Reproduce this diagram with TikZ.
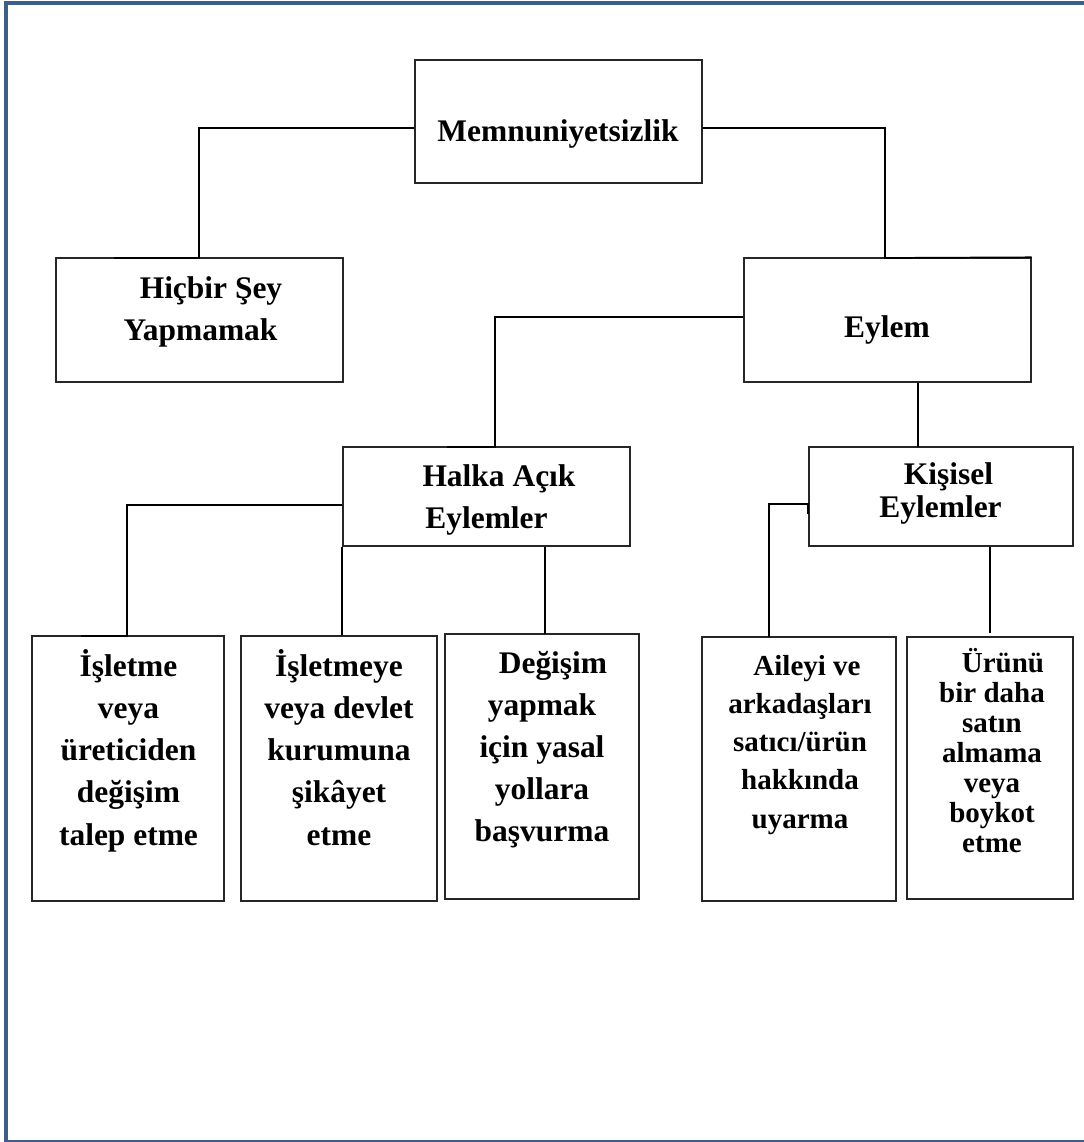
\documentclass[tikz,border=0pt]{standalone}
\usepackage{fontspec}
\setmainfont{Liberation Serif}
\usetikzlibrary{fit,calc}
\definecolor{bordercol}{RGB}{61,94,141}
\newcommand{\tb}[3]{\parbox[t]{9cm}{\centering\fontsize{#1}{#2}\selectfont\lineskiplimit=-100pt\relax #3}}
\tikzset{
  box/.style={draw=black!85, line width=1pt, inner sep=0pt, rectangle},
  txt/.style={anchor=base, inner sep=0pt, font=\bfseries},
  conn/.style={draw=black, line width=1.3pt}
}
\begin{document}
\begin{tikzpicture}[x=0.75pt,y=-0.75pt]
\useasboundingbox (0,0) rectangle (1084,1142);
\fill[white] (0,0) rectangle (1084,1142);
% page border
\draw[bordercol, line width=3pt] (4,3) coordinate (bTL) -- (1084,3) coordinate (bTR);
\draw[bordercol, line width=3pt] (6,1) coordinate (bLT) -- (6,1141.5) coordinate (bLB);
\draw[bordercol, line width=1.2pt] (6,1140.7) coordinate (bBL) -- (1084,1140.7) coordinate (bBR);

% boxes
\node[box, fit={(415,60)(702,183)}] (memn) {};
\node[box, fit={(56,258)(343,382)}] (hic) {};
\node[box, fit={(744,258)(1031,382)}] (eylem) {};
\node[box, fit={(343,447)(630,546)}] (halka) {};
\node[box, fit={(809,447)(1073,546)}] (kis) {};
\node[box, fit={(32,636)(224,901)}] (b1) {};
\node[box, fit={(241,636)(437,901)}] (b2) {};
\node[box, fit={(445,634)(639,899)}] (b3) {};
\node[box, fit={(702,637)(896,901)}] (b4) {};
\node[box, fit={(907,637)(1073,899)}] (b5) {};

% texts
\node[txt] (tmemn) at (558,141.7) {\tb{23.6}{31.7}{Memnuniyetsizlik}};
\node[txt] (thic) at (200.5,298) {\tb{23.6}{31.5}{\hspace*{15.75pt}Hiçbir Şey\\Yapmamak}};
\node[txt] (teylem) at (887,337) {\tb{23.6}{31.7}{Eylem}};
\node[txt] (thalka) at (486.5,486.7) {\tb{23.6}{31.7}{\hspace*{18.75pt}Halka Açık\\Eylemler}};
\node[txt] (tkis) at (940.5,484) {\tb{23.6}{24.75}{\hspace*{12pt}Kişisel\\Eylemler}};
\node[txt] (tb1) at (128.5,676) {\tb{23.6}{31.7}{İşletme\\veya\\üreticiden\\değişim\\talep etme}};
\node[txt] (tb2) at (339,676) {\tb{23.6}{31.7}{İşletmeye\\veya devlet\\kurumuna\\şikâyet\\etme}};
\node[txt] (tb3) at (542,673) {\tb{23.6}{31.6}{\hspace*{16.5pt}Değişim\\yapmak\\için yasal\\yollara\\başvurma}};
\node[txt] (tb4) at (800,675) {\tb{21.75}{28.7}{\hspace*{10.5pt}Aileyi ve\\arkadaşları\\satıcı/ürün\\hakkında\\uyarma}};
\node[txt] (tb5) at (992,672) {\tb{21.75}{22.5}{\hspace*{16.5pt}Ürünü\\bir daha\\satın\\almama\\veya\\boykot\\etme}};

% connector coordinates
\coordinate (hicJ) at (199,258);
\coordinate (hicE) at (114,258);
\coordinate (eyJ) at (885,258);
\coordinate (haJ) at (495,447);
\coordinate (haE) at (447,447);
\coordinate (kisT) at (918,447);
\coordinate (b1J) at (127,636);
\coordinate (b1E) at (81,636);
\coordinate (b3T) at (545,634);
\coordinate (b4T) at (769,637);
\coordinate (b5T) at (990,633);

% connectors
\draw[conn] ($(memn.west)+(0,6.5)$) -| (hicJ) -- (hicE);
\draw[conn] ($(memn.east)+(0,6.5)$) -| (eyJ) -- (eylem.north east);
\draw[conn] ($(eylem.west)+(0,-3)$) -| (haJ) -- (haE);
\draw[conn] (eylem.south -| kisT) -- (kisT);
\draw[conn] ($(halka.west)+(0,8.5)$) -| (b1J) -- (b1E);
\draw[conn] (halka.south west) -- (halka.south west |- b2.north);
\draw[conn] (halka.south -| b3T) -- (b3T);
\draw[conn] ($(kis.west)+(0,17)$) -- ($(kis.west)+(0,7.5)$) -| (b4T);
\draw[conn] (kis.south -| b5T) -- (b5T);
\end{tikzpicture}
\end{document}
